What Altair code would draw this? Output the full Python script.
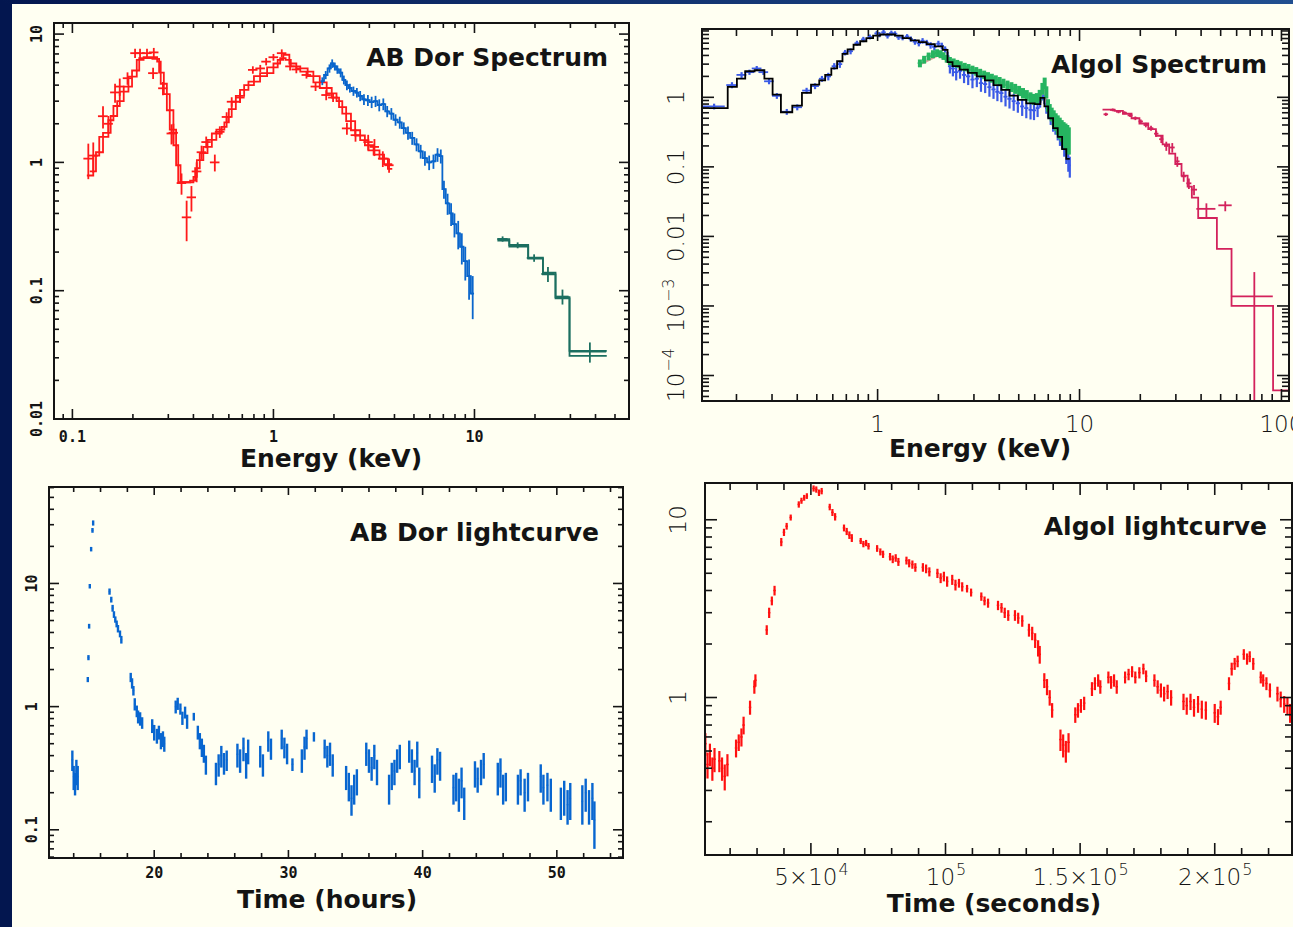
import altair as alt
import pandas as pd

W, H = 1293, 927

# ---------------------------------------------------------------- colours
NAVY = "#03164f"
NAVY_LIGHT = "#214f90"
CREAM = "#fffff2"
INK = "#141414"

AB_RED = "#ff1a1a"
AB_BLUE = "#0a66cc"
AB_TEAL = "#1c6f60"
AL_BLUE = "#3a5ae6"
AL_GREEN = "#26b460"
AL_PINK = "#e6a2a2"
AL_BLACK = "#000000"
AL_CRIMSON = "#d3225c"
LC_BLUE = "#0866d0"
LC_RED = "#ff1010"

SMALL_FONT = "DejaVu Sans Mono"
BIG_FONT = "DejaVu Sans"

# ================================================================ AB Dor spectrum
# soft instrument (two cameras): data points
AB_RED_E = [0.120, 0.127, 0.142, 0.151, 0.163, 0.172, 0.188, 0.205, 0.217, 0.235,
            0.254, 0.252, 0.282, 0.311, 0.318, 0.349, 0.370, 0.391, 0.415, 0.439,
            0.463, 0.511, 0.541, 0.585, 0.620, 0.682, 0.79, 0.86, 0.92, 1.00,
            1.10, 1.21, 1.30, 1.46, 1.62, 1.83, 1.98, 2.32, 2.56, 2.96,
            3.18, 3.50, 3.76]
AB_RED_DE = [0.0066, 0.007, 0.008, 0.008, 0.009, 0.0095, 0.010, 0.011, 0.012, 0.013,
             0.014, 0.014, 0.015, 0.017, 0.017, 0.019, 0.020, 0.021, 0.023, 0.024,
             0.025, 0.028, 0.030, 0.032, 0.034, 0.037, 0.043, 0.047, 0.05, 0.055,
             0.06, 0.066, 0.07, 0.08, 0.09, 0.1, 0.11, 0.13, 0.14, 0.16,
             0.17, 0.19, 0.2]
AB_RED_F = [1.07, 1.13, 2.29, 2.0, 3.51, 3.9, 4.53, 7.1, 7.1, 7.1,
            7.2, 4.96, 3.78, 1.68, 1.70, 0.69, 0.373, 0.534, 0.85, 1.20,
            1.44, 1.0, 1.73, 2.26, 2.97, 3.2, 5.26, 5.4, 6.1, 6.6,
            7.1, 5.6, 5.3, 4.8, 3.9, 3.35, 3.2, 1.84, 1.63, 1.44,
            1.32, 1.07, 0.95]
AB_RED_DF = [0.33, 0.3, 0.45, 0.3, 0.6, 0.6, 0.5, 0.6, 0.6, 0.6,
             0.6, 0.5, 0.45, 0.3, 0.3, 0.13, 0.13, 0.12, 0.15, 0.15,
             0.15, 0.15, 0.18, 0.2, 0.25, 0.3, 0.35, 0.35, 0.4, 0.4,
             0.5, 0.4, 0.35, 0.3, 0.3, 0.3, 0.25, 0.2, 0.18, 0.2,
             0.2, 0.15, 0.12]

# folded models for the two soft cameras (bin edges, bin values)
AB_RED_MODEL_A_EDGES = [0.118, 0.127, 0.136, 0.151, 0.160, 0.172, 0.190, 0.209, 0.226, 0.264,
                        0.275, 0.295, 0.318, 0.336, 0.400, 0.416, 0.448, 0.494, 0.553, 0.585,
                        0.620, 0.682, 0.751, 0.858, 1.00, 1.08, 1.15, 1.22, 1.36, 1.58,
                        1.84, 2.06, 2.20, 2.43, 2.70, 2.97, 3.37, 3.71, 3.90]
AB_RED_MODEL_A = [0.79, 1.13, 1.58, 2.13, 2.75, 3.56, 4.66, 6.3, 6.6, 6.1,
                  4.1, 2.55, 1.36, 0.70, 0.77, 1.04, 1.32, 1.68, 1.89, 2.26,
                  2.97, 3.67, 4.26, 4.96, 5.9, 6.5, 6.3, 5.6, 5.1, 4.2,
                  3.45, 3.0, 2.4, 1.78, 1.49, 1.24, 1.07, 0.89]
AB_RED_MODEL_B_EDGES = [0.122, 0.131, 0.142, 0.155, 0.167, 0.180, 0.198, 0.215, 0.250, 0.270,
                        0.285, 0.305, 0.328, 0.345, 0.385, 0.408, 0.430, 0.470, 0.520, 0.570,
                        0.600, 0.650, 0.715, 0.800, 0.930, 1.05, 1.12, 1.20, 1.30, 1.48,
                        1.70, 1.95, 2.12, 2.30, 2.55, 2.85, 3.15, 3.55, 3.90]
AB_RED_MODEL_B = [0.85, 1.2, 1.7, 2.3, 3.0, 3.9, 5.2, 6.5, 6.4, 5.0,
                  3.4, 1.8, 0.95, 0.70, 0.72, 0.90, 1.18, 1.50, 1.80, 2.05,
                  2.6, 3.3, 4.0, 4.7, 5.5, 6.3, 6.9, 5.9, 5.4, 4.7,
                  3.8, 3.2, 2.7, 2.1, 1.62, 1.36, 1.15, 0.97]

# medium-energy instrument
AB_BLUE_E = [1.75, 1.82, 1.90, 1.96, 2.02, 2.08, 2.16, 2.24, 2.32, 2.40,
             2.50, 2.60, 2.70, 2.82, 2.95, 3.08, 3.22, 3.36, 3.52, 3.68,
             3.86, 4.05, 4.25, 4.45, 4.67, 4.90, 5.15, 5.40, 5.67, 5.95,
             6.25, 6.55, 6.80, 7.05, 7.35, 7.65, 7.95, 8.30, 8.65, 9.00,
             9.40, 9.80]
AB_BLUE_DE = [0.035, 0.035, 0.04, 0.04, 0.04, 0.04, 0.045, 0.045, 0.045, 0.05,
              0.05, 0.05, 0.055, 0.055, 0.06, 0.06, 0.065, 0.065, 0.07, 0.07,
              0.075, 0.08, 0.08, 0.085, 0.09, 0.095, 0.1, 0.1, 0.11, 0.11,
              0.12, 0.12, 0.12, 0.12, 0.12, 0.12, 0.13, 0.13, 0.14, 0.14,
              0.15, 0.15]
AB_BLUE_F = [4.3, 4.8, 5.4, 5.9, 5.6, 5.3, 5.0, 4.4, 4.0, 3.8,
             3.6, 3.5, 3.3, 3.1, 3.05, 2.95, 3.0, 2.8, 2.85, 2.5,
             2.4, 2.15, 2.05, 1.85, 1.7, 1.55, 1.38, 1.22, 1.08, 1.0,
             1.02, 1.15, 1.12, 0.62, 0.48, 0.40, 0.33, 0.28, 0.22, 0.17,
             0.13, 0.095]
AB_BLUE_DF = [0.3, 0.35, 0.4, 0.45, 0.4, 0.4, 0.4, 0.35, 0.35, 0.3,
              0.3, 0.3, 0.3, 0.3, 0.3, 0.3, 0.3, 0.3, 0.3, 0.25,
              0.25, 0.22, 0.22, 0.2, 0.2, 0.18, 0.16, 0.15, 0.14, 0.13,
              0.13, 0.14, 0.14, 0.1, 0.09, 0.08, 0.07, 0.07, 0.06, 0.05,
              0.045, 0.035]

# hard instrument
AB_HARD_EDGES = [13.0, 14.9, 18.5, 21.9, 25.3, 29.7, 45.5]
AB_HARD_MODEL_A = [0.252, 0.227, 0.181, 0.138, 0.089, 0.034]
AB_HARD_MODEL_B = [0.246, 0.221, 0.178, 0.134, 0.087, 0.031]
AB_HARD_E = [13.8, 16.4, 19.8, 23.2, 27.4, 37.5]
AB_HARD_DE = [0.8, 1.5, 1.6, 1.7, 2.0, 7.7]
AB_HARD_F = [0.253, 0.226, 0.18, 0.135, 0.09, 0.0335]
AB_HARD_DF = [0.012, 0.012, 0.012, 0.018, 0.012, 0.006]

# ================================================================ Algol spectrum
AL_MODEL_EDGES = [0.135, 0.181, 0.201, 0.221, 0.246, 0.275, 0.302, 0.332, 0.378, 0.422,
                  0.468, 0.514, 0.55, 0.59, 0.63, 0.67, 0.71, 0.76, 0.82, 0.88,
                  0.95, 1.03, 1.12, 1.22, 1.33, 1.46, 1.60, 1.75, 1.92, 2.10,
                  2.22, 2.35, 2.55, 2.8, 3.1, 3.4, 3.75, 4.1, 4.5, 4.95,
                  5.45, 6.0, 6.4, 6.7, 7.0, 7.4, 7.8, 8.2, 8.6, 8.95]
AL_MODEL = [0.70, 1.41, 1.86, 2.37, 2.45, 1.86, 1.09, 0.61, 0.76, 1.16,
            1.52, 1.75, 2.1, 2.6, 3.3, 4.2, 4.9, 5.7, 6.4, 7.1,
            7.7, 8.0, 8.0, 7.7, 7.1, 6.6, 6.2, 5.8, 5.4, 4.8,
            3.2, 2.8, 2.5, 2.25, 2.0, 1.75, 1.5, 1.28, 1.06, 0.92,
            0.82, 0.80, 0.98, 0.74, 0.50, 0.36, 0.27, 0.18, 0.13]

AL_BLUE_E = [0.155, 0.19, 0.212, 0.232, 0.252, 0.272, 0.29, 0.317, 0.355, 0.40,
             0.445, 0.49, 0.53, 0.57, 0.61, 0.65, 0.69, 0.735, 0.79, 0.85,
             0.915, 0.99, 1.02, 1.07, 1.12, 1.17, 1.22, 1.27, 1.33, 1.40,
             1.46, 1.53, 1.60, 1.67, 1.75, 1.83, 1.91, 2.0, 2.08, 2.16,
             2.22, 2.28, 2.36, 2.45, 2.56, 2.68, 2.81, 2.95, 3.10, 3.25,
             3.41, 3.58, 3.75, 3.92, 4.10, 4.30, 4.50, 4.72, 4.95, 5.2,
             5.45, 5.72, 5.95, 6.2, 6.38, 6.55, 6.70, 6.85, 7.0, 7.2,
             7.4, 7.6, 7.8, 8.0, 8.2, 8.4, 8.6, 8.8, 8.95]
AL_BLUE_DE = [0.02, 0.012, 0.012, 0.013, 0.014, 0.015, 0.016, 0.017, 0.022, 0.022,
              0.022, 0.022, 0.018, 0.018, 0.018, 0.018, 0.018, 0.02, 0.022, 0.022,
              0.024, 0.026, 0.026, 0.028, 0.03, 0.03, 0.032, 0.032, 0.034, 0.035,
              0.036, 0.038, 0.04, 0.04, 0.045, 0.045, 0.048, 0.05, 0.05, 0.05,
              0.05, 0.05, 0.055, 0.06, 0.06, 0.065, 0.07, 0.07, 0.075, 0.08,
              0.08, 0.085, 0.09, 0.095, 0.1, 0.1, 0.11, 0.11, 0.12, 0.12,
              0.13, 0.13, 0.14, 0.14, 0.1, 0.1, 0.1, 0.1, 0.1, 0.1,
              0.1, 0.1, 0.1, 0.1, 0.1, 0.1, 0.1, 0.1, 0.08]
AL_BLUE_F = [0.74, 1.5, 2.1, 2.3, 2.6, 2.3, 1.7, 1.05, 0.62, 0.72,
             1.25, 1.45, 1.85, 2.0, 2.8, 3.0, 4.4, 4.6, 6.0, 6.8,
             7.4, 8.3, 8.0, 8.6, 7.7, 8.4, 8.2, 7.3, 7.2, 7.5,
             6.9, 6.3, 6.0, 6.5, 6.1, 5.6, 5.3, 5.9, 5.5, 4.9,
             3.9, 2.8, 2.6, 2.3, 2.4, 2.1, 2.0, 1.8, 1.85, 1.6,
             1.55, 1.4, 1.3, 1.2, 1.15, 1.02, 0.95, 0.88, 0.82, 0.74,
             0.70, 0.66, 0.65, 0.70, 0.86, 1.05, 0.95, 0.7, 0.62, 0.5,
             0.42, 0.37, 0.31, 0.26, 0.23, 0.19, 0.15, 0.125, 0.105]
AL_BLUE_DF = [0.07, 0.15, 0.2, 0.2, 0.22, 0.2, 0.16, 0.1, 0.06, 0.07,
              0.12, 0.14, 0.18, 0.25, 0.3, 0.35, 0.4, 0.45, 0.5, 0.6,
              0.6, 0.7, 0.7, 0.8, 0.7, 0.7, 0.7, 0.6, 0.6, 0.6,
              0.6, 0.6, 0.6, 0.6, 0.6, 0.6, 0.6, 0.6, 0.6, 0.5,
              0.6, 0.6, 0.6, 0.55, 0.55, 0.5, 0.5, 0.45, 0.45, 0.4,
              0.4, 0.38, 0.35, 0.32, 0.3, 0.28, 0.26, 0.24, 0.22, 0.2,
              0.2, 0.18, 0.18, 0.18, 0.15, 0.15, 0.15, 0.12, 0.12, 0.1,
              0.1, 0.08, 0.07, 0.06, 0.05, 0.05, 0.04, 0.04, 0.035]

AL_GREEN_E = [1.62, 1.70, 1.79, 1.88, 1.97, 2.05, 2.12, 2.20, 2.28, 2.38,
              2.48, 2.58, 2.70, 2.82, 2.95, 3.08, 3.22, 3.37, 3.52, 3.68,
              3.85, 4.02, 4.20, 4.40, 4.60, 4.80, 5.02, 5.25, 5.48, 5.72,
              5.95, 6.15, 6.35, 6.55, 6.72, 6.85, 6.98, 7.12, 7.28, 7.45,
              7.62, 7.80, 7.98, 8.16, 8.34, 8.52, 8.70, 8.85]
AL_GREEN_DE = [0.04, 0.04, 0.045, 0.045, 0.05, 0.05, 0.05, 0.055, 0.055, 0.06,
               0.06, 0.065, 0.065, 0.07, 0.07, 0.075, 0.075, 0.08, 0.08, 0.085,
               0.09, 0.09, 0.095, 0.1, 0.1, 0.1, 0.11, 0.11, 0.12, 0.12,
               0.12, 0.1, 0.1, 0.1, 0.08, 0.07, 0.07, 0.08, 0.08, 0.09,
               0.09, 0.09, 0.09, 0.09, 0.09, 0.09, 0.08, 0.07]
AL_GREEN_F = [3.1, 3.5, 3.9, 4.2, 4.35, 4.2, 3.95, 3.6, 3.35, 3.2,
              3.05, 2.9, 2.75, 2.65, 2.5, 2.38, 2.25, 2.12, 2.0, 1.9,
              1.8, 1.7, 1.6, 1.5, 1.42, 1.34, 1.25, 1.16, 1.08, 1.0,
              0.95, 0.97, 1.08, 1.35, 1.62, 1.2, 0.78, 0.66, 0.58, 0.52,
              0.46, 0.42, 0.38, 0.35, 0.32, 0.30, 0.28, 0.26]
AL_GREEN_DF = [0.4, 0.45, 0.5, 0.55, 0.55, 0.55, 0.5, 0.45, 0.45, 0.42,
               0.4, 0.4, 0.38, 0.36, 0.35, 0.34, 0.32, 0.3, 0.3, 0.28,
               0.27, 0.26, 0.25, 0.24, 0.23, 0.22, 0.21, 0.2, 0.19, 0.18,
               0.17, 0.18, 0.2, 0.26, 0.3, 0.24, 0.16, 0.14, 0.13, 0.13,
               0.13, 0.13, 0.13, 0.12, 0.12, 0.12, 0.12, 0.11]

AL_PINK_E = [1.6, 2.0, 2.2, 2.5, 3.0, 3.5, 4.0, 4.5, 5.0, 5.5, 6.0, 6.4, 6.7, 6.9, 7.3, 7.8, 8.3, 8.85]
AL_PINK_F = [2.9, 4.0, 3.4, 2.9, 2.35, 1.95, 1.65, 1.42, 1.22, 1.05, 0.92, 1.0, 1.45, 0.8, 0.56, 0.42, 0.32, 0.25]

AL_HARD_EDGES = [13.0, 14.9, 16.4, 18.1, 19.8, 21.9, 23.9, 25.8, 27.8, 29.8,
                 32.0, 34.3, 36.0, 38.7, 47.9, 56.6, 90.9, 109.0]
AL_HARD_MODEL = [0.665, 0.64, 0.58, 0.50, 0.42, 0.35, 0.28, 0.21, 0.155, 0.11,
                 0.075, 0.052, 0.036, 0.0184, 0.0066, 0.001, 6.1e-5]
AL_HARD_E = [13.5, 14.6, 15.6, 16.7, 17.8, 18.9, 20.1, 21.3, 22.6, 24.0,
             25.4, 26.9, 28.8, 30.5, 32.8, 34.8, 36.9, 42.5, 52.7, 73.4]
AL_HARD_DE = [0.35, 0.45, 0.45, 0.45, 0.5, 0.5, 0.5, 0.55, 0.6, 0.6,
              0.6, 0.7, 0.8, 0.8, 0.9, 1.0, 1.3, 4.6, 4.0, 17.2]
AL_HARD_F = [0.57, 0.66, 0.62, 0.60, 0.55, 0.50, 0.45, 0.40, 0.36, 0.30,
             0.25, 0.20, 0.19, 0.12, 0.073, 0.058, 0.047, 0.0249, 0.028, 0.00137]
AL_HARD_DF_LO = [0.03, 0.03, 0.03, 0.03, 0.03, 0.03, 0.03, 0.03, 0.03, 0.03,
                 0.03, 0.03, 0.03, 0.02, 0.012, 0.01, 0.008, 0.006, 0.005, 0.001326]
AL_HARD_DF_HI = [0.03, 0.03, 0.03, 0.03, 0.03, 0.03, 0.03, 0.03, 0.03, 0.03,
                 0.03, 0.03, 0.03, 0.02, 0.012, 0.01, 0.008, 0.005, 0.004, 0.0017]

# ================================================================ AB Dor light curve (hours, rate)
AB_LC_T = [13.9, 14.0, 14.1, 14.2, 14.3,
           15.05, 15.1, 15.15, 15.2, 15.3, 15.4, 15.45,
           16.67, 16.8, 16.9, 17.0, 17.1, 17.2, 17.3, 17.45, 17.55,
           18.25, 18.35, 18.45, 18.55, 18.7, 18.8, 18.95, 19.1,
           19.85, 20.0, 20.2, 20.35, 20.5, 20.65, 20.75,
           21.6, 21.75, 21.95, 22.1, 22.3, 22.45,
           22.95,
           23.25, 23.4, 23.55, 23.7, 23.85,
           24.6, 24.8, 25.0, 25.2, 25.4,
           26.2, 26.4, 26.65, 26.85, 27.0,
           27.9, 28.1,
           28.5, 28.7,
           29.5, 29.7, 29.9,
           30.3,
           31.0, 31.2, 31.35,
           31.9,
           32.7, 32.9, 33.1, 33.3,
           34.3, 34.5, 34.7, 34.9, 35.1,
           35.8, 36.0, 36.2, 36.4, 36.6,
           37.5, 37.7, 37.9, 38.1, 38.3,
           39.0, 39.2, 39.4, 39.6, 39.75,
           40.7, 40.9, 41.1, 41.3,
           42.3, 42.5, 42.7, 42.9, 43.1,
           43.9, 44.1, 44.35, 44.55,
           45.6, 45.8, 46.0, 46.2,
           47.1, 47.3, 47.6, 47.85,
           48.8, 49.0, 49.3, 49.55,
           50.3, 50.55, 50.8, 51.0,
           51.9, 52.15, 52.4, 52.65, 52.8]
AB_LC_RATE = [0.37, 0.27, 0.24, 0.30, 0.27,
              1.66, 2.5, 4.5, 9.5, 19.0, 27.0, 31.0,
              8.6, 7.4, 6.3, 5.6, 5.1, 4.7, 4.3, 3.9, 3.5,
              1.73, 1.55, 1.35, 1.05, 0.92, 0.83, 0.80, 0.74,
              0.70, 0.62, 0.58, 0.62, 0.53, 0.55, 0.50,
              1.0, 1.06, 0.96, 0.81, 0.90, 0.76,
              0.83,
              0.62, 0.53, 0.47, 0.42, 0.34,
              0.29, 0.34, 0.40, 0.35, 0.37,
              0.41, 0.37, 0.46, 0.34, 0.44,
              0.40, 0.34,
              0.53, 0.46,
              0.55, 0.47, 0.42,
              0.34,
              0.37, 0.47, 0.55,
              0.57,
              0.46, 0.40, 0.42, 0.34,
              0.27, 0.23, 0.18, 0.22, 0.25,
              0.42, 0.37, 0.32, 0.40, 0.30,
              0.22, 0.28, 0.30, 0.37, 0.40,
              0.44, 0.37, 0.30, 0.42, 0.25,
              0.32, 0.27, 0.37, 0.34,
              0.22, 0.23, 0.20, 0.25, 0.17,
              0.29, 0.26, 0.30, 0.34,
              0.27, 0.30, 0.22, 0.23,
              0.22, 0.25, 0.20, 0.23,
              0.27, 0.22, 0.23, 0.20,
              0.17, 0.19, 0.16, 0.18,
              0.17, 0.20, 0.16, 0.18, 0.12]
AB_LC_ERR = [0.07, 0.06, 0.05, 0.07, 0.06,
             0.08, 0.12, 0.2, 0.4, 0.8, 1.2, 1.5,
             0.5, 0.4, 0.4, 0.35, 0.3, 0.3, 0.3, 0.25, 0.25,
             0.15, 0.15, 0.12, 0.12, 0.1, 0.1, 0.1, 0.08,
             0.09, 0.09, 0.08, 0.08, 0.08, 0.08, 0.07,
             0.12, 0.12, 0.1, 0.1, 0.1, 0.1,
             0.06,
             0.08, 0.08, 0.08, 0.07, 0.06,
             0.06, 0.07, 0.08, 0.07, 0.07,
             0.09, 0.08, 0.1, 0.08, 0.1,
             0.08, 0.07,
             0.1, 0.09,
             0.1, 0.09, 0.08,
             0.04,
             0.08, 0.1, 0.1,
             0.05,
             0.08, 0.08, 0.09, 0.07,
             0.06, 0.06, 0.05, 0.06, 0.06,
             0.09, 0.08, 0.07, 0.09, 0.07,
             0.06, 0.07, 0.07, 0.08, 0.09,
             0.09, 0.08, 0.07, 0.1, 0.07,
             0.08, 0.07, 0.09, 0.09,
             0.06, 0.06, 0.06, 0.07, 0.05,
             0.07, 0.06, 0.07, 0.08,
             0.08, 0.08, 0.06, 0.06,
             0.06, 0.06, 0.06, 0.06,
             0.07, 0.06, 0.06, 0.06,
             0.05, 0.06, 0.05, 0.06,
             0.06, 0.06, 0.05, 0.06, 0.05]
AB_LC_HALF_BIN = 0.06

# ================================================================ Algol light curve (seconds, rate)
AL_LC_T = [10800, 11600, 12500, 13400, 14200,
           16000, 17000, 18000, 19000,
           22200, 23200, 24200, 25000, 27400, 29000, 29400,
           33600, 34500, 35500, 36500,
           39000, 40000, 41000, 42500,
           45500, 46500, 47500, 48500,
           51000, 52000, 53000, 54000,
           57000, 58000, 59000,
           62300, 63300, 64300, 65200,
           68500, 69500, 70500, 71400,
           74600, 75800, 76800,
           79400, 80400, 81500, 82500,
           85500, 86500, 87700, 88800,
           91600, 92800, 94000,
           97000, 98200, 99400, 100600,
           102500, 103700, 105000, 106200,
           108000, 109500,
           113300, 114500, 115800,
           119500, 120800, 122000, 123300,
           125800, 127000, 128500,
           131000, 132200, 133300, 134400, 135000,
           136700, 137700, 138700, 139600,
           142700, 143700, 144700, 145700,
           148200, 149200, 150300, 151500,
           154400, 155500, 156700, 157500,
           160500, 161500, 162600, 163600,
           166700, 168000, 169300, 170500, 172000, 173500, 174500,
           177600, 178800, 180000, 181200, 182500, 183800,
           188400, 189600, 191000, 192300, 193800, 195200, 196700,
           200000, 201200, 202200,
           205300, 206300, 207400, 208500,
           210800, 212000, 213000, 214300,
           217100, 218000, 219200, 220500,
           223300, 224500, 225800, 227000, 228000]
AL_LC_RATE = [0.55, 0.42, 0.48, 0.40, 0.45,
              0.44, 0.40, 0.36, 0.42,
              0.52, 0.56, 0.60, 0.70, 0.88, 1.15, 1.25,
              2.4, 3.0, 3.5, 4.0,
              7.5, 8.5, 9.2, 10.3,
              12.2, 12.8, 13.3, 13.6,
              15.0, 14.8, 14.2, 14.5,
              11.8, 11.0, 10.4,
              9.0, 8.6, 8.2, 7.9,
              7.6, 7.3, 7.4, 7.1,
              6.9, 6.6, 6.4,
              6.2, 6.0, 6.1, 5.8,
              5.9, 5.7, 5.6, 5.4,
              5.4, 5.3, 5.1,
              5.0, 4.7, 4.8, 4.5,
              4.6, 4.3, 4.4, 4.2,
              4.1, 3.9,
              3.7, 3.5, 3.4,
              3.3, 3.2, 3.0, 2.9,
              2.9, 2.8, 2.7,
              2.4, 2.3, 2.1, 1.9, 1.75,
              1.25, 1.15, 1.0, 0.85,
              0.58, 0.54, 0.50, 0.56,
              0.80, 0.85, 0.90, 0.93,
              1.12, 1.20, 1.25, 1.15,
              1.30, 1.22, 1.25, 1.15,
              1.30, 1.35, 1.40, 1.30, 1.38, 1.45, 1.32,
              1.25, 1.15, 1.10, 1.05, 1.08, 1.00,
              0.95, 0.90, 0.95, 0.88, 0.92, 0.86, 0.85,
              0.82, 0.78, 0.88,
              1.20, 1.45, 1.55, 1.60,
              1.75, 1.65, 1.70, 1.55,
              1.30, 1.25, 1.20, 1.10,
              1.05, 0.98, 0.92, 0.90, 0.82]
AL_LC_ERR = [0.08, 0.07, 0.07, 0.06, 0.07,
             0.06, 0.06, 0.06, 0.06,
             0.06, 0.06, 0.07, 0.08, 0.08, 0.1, 0.1,
             0.15, 0.2, 0.2, 0.25,
             0.4, 0.4, 0.4, 0.4,
             0.5, 0.5, 0.5, 0.5,
             0.6, 0.6, 0.6, 0.6,
             0.5, 0.5, 0.5,
             0.4, 0.4, 0.4, 0.4,
             0.3, 0.3, 0.3, 0.3,
             0.3, 0.3, 0.3,
             0.3, 0.3, 0.3, 0.3,
             0.3, 0.3, 0.3, 0.3,
             0.3, 0.3, 0.3,
             0.3, 0.3, 0.3, 0.3,
             0.3, 0.3, 0.25, 0.25,
             0.2, 0.2,
             0.2, 0.2, 0.2,
             0.2, 0.2, 0.2, 0.2,
             0.2, 0.2, 0.2,
             0.2, 0.2, 0.2, 0.2, 0.2,
             0.12, 0.12, 0.1, 0.08,
             0.08, 0.08, 0.07, 0.07,
             0.08, 0.08, 0.08, 0.08,
             0.1, 0.1, 0.1, 0.1,
             0.1, 0.1, 0.1, 0.1,
             0.1, 0.1, 0.1, 0.1, 0.1, 0.1, 0.1,
             0.1, 0.1, 0.1, 0.1, 0.1, 0.1,
             0.1, 0.1, 0.1, 0.1, 0.1, 0.1, 0.1,
             0.1, 0.08, 0.08,
             0.1, 0.12, 0.12, 0.12,
             0.12, 0.12, 0.12, 0.12,
             0.1, 0.1, 0.1, 0.1,
             0.1, 0.1, 0.1, 0.1, 0.1]
AL_LC_HALF_BIN = 450

# ================================================================ axes: ticks and tick labels
def log_minor(lo_exp, hi_exp, mults=range(2, 10)):
    return [m * 10.0 ** k for k in range(lo_exp, hi_exp + 1) for m in mults]

P1_X_MAJOR = [0.1, 1, 10]
P1_X_MINOR = [0.09] + log_minor(-1, 1)[:-4]
P1_X_LABELS = ["0.1", "1", "10"]
P1_Y_MAJOR = [0.01, 0.1, 1, 10]
P1_Y_MINOR = log_minor(-2, 0)
P1_Y_LABELS = ["0.01", "0.1", "1", "10"]

P2_X_MAJOR = [1, 10, 100]
P2_X_MINOR = log_minor(-1, 1)
P2_X_LABELS = ["1", "10", "100"]
P2_X_EXPS = ["", "", ""]
P2_Y_MAJOR = [1e-4, 1e-3, 0.01, 0.1, 1]
P2_Y_MINOR = [5e-5, 6e-5, 7e-5, 8e-5, 9e-5] + log_minor(-4, 0)
P2_Y_LABELS = ["10", "10", "0.01", "0.1", "1"]
P2_Y_EXPS = ["\u22124", "\u22123", "", "", ""]

P3_X_MAJOR = [20, 30, 40, 50]
P3_X_MINOR = [14, 16, 18, 22, 24, 26, 28, 32, 34, 36, 38, 42, 44, 46, 48, 52, 54]
P3_X_LABELS = ["20", "30", "40", "50"]
P3_Y_MAJOR = [0.1, 1, 10]
P3_Y_MINOR = [0.06, 0.07, 0.08, 0.09] + log_minor(-1, 0) + [20, 30, 40, 50, 60]
P3_Y_LABELS = ["0.1", "1", "10"]

P4_X_MAJOR = [50000, 100000, 150000, 200000]
P4_X_MINOR = [20000, 30000, 40000, 60000, 70000, 80000, 90000,
              110000, 120000, 130000, 140000, 160000, 170000, 180000, 190000,
              210000, 220000]
P4_X_LABELS = ["5\u00d710", "10", "1.5\u00d710", "2\u00d710"]
P4_X_EXPS = ["4", "5", "5", "5"]
P4_Y_MAJOR = [1, 10]
P4_Y_MINOR = log_minor(-1, 0)
P4_Y_LABELS = ["1", "10"]
P4_Y_EXPS = ["", ""]

ONE = pd.DataFrame({"k": [0]})

# approximate advance widths (em) of the label glyphs, used to centre "base + exponent"
GLYPH_EM = {".": 0.318, "\u00d7": 0.838, "\u2212": 0.838}


def text_width(s, size):
    return sum(GLYPH_EM.get(c, 0.636) for c in s) * size


# ================================================================ helpers
def scale(kind, domain, rng):
    if kind == "log":
        return alt.Scale(type="log", domain=domain, range=rng, nice=False)
    return alt.Scale(type="linear", domain=domain, range=rng, nice=False, zero=False)


def cross_layers(x, dx, y, dy_lo, dy_hi, xs, ys, color, width, h_width=None):
    df = pd.DataFrame({
        "x": x,
        "x_lo": [a - b for a, b in zip(x, dx)],
        "x_hi": [a + b for a, b in zip(x, dx)],
        "y": y,
        "y_lo": [a - b for a, b in zip(y, dy_lo)],
        "y_hi": [a + b for a, b in zip(y, dy_hi)],
    })
    horiz = alt.Chart(df).mark_rule(color=color, strokeWidth=h_width or width).encode(
        x=alt.X("x_lo:Q", scale=xs, axis=None), x2="x_hi:Q",
        y=alt.Y("y:Q", scale=ys, axis=None))
    vert = alt.Chart(df).mark_rule(color=color, strokeWidth=width).encode(
        x=alt.X("x:Q", scale=xs, axis=None),
        y=alt.Y("y_lo:Q", scale=ys, axis=None), y2="y_hi:Q")
    return [horiz, vert]


def step_layer(edges, values, xs, ys, color, width):
    df = pd.DataFrame({"x": list(edges), "y": list(values) + [values[-1]],
                       "i": list(range(len(edges)))})
    return alt.Chart(df).mark_line(color=color, strokeWidth=width, interpolate="step-after").encode(
        x=alt.X("x:Q", scale=xs, axis=None), y=alt.Y("y:Q", scale=ys, axis=None), order="i:Q")


def line_layer(x, y, xs, ys, color, width, interp="linear"):
    df = pd.DataFrame({"x": x, "y": y, "i": list(range(len(x)))})
    return alt.Chart(df).mark_line(color=color, strokeWidth=width, interpolate=interp).encode(
        x=alt.X("x:Q", scale=xs, axis=None), y=alt.Y("y:Q", scale=ys, axis=None), order="i:Q")


def frame_layers(xs, ys, xd, yd, xr, yr, x_major, x_minor, y_major, y_minor, x_len, y_len, tick_w):
    left, right = xr
    bottom, top = yr
    out = []
    for vals, length in ((x_major, x_len[0]), (x_minor, x_len[1])):
        df = pd.DataFrame({"v": vals})
        for edge, sign in ((bottom, -1), (top, 1)):
            out.append(alt.Chart(df).mark_rule(color=INK, strokeWidth=tick_w).encode(
                x=alt.X("v:Q", scale=xs, axis=None),
                y=alt.value(edge), y2=alt.value(edge + sign * length)))
    for vals, length in ((y_major, y_len[0]), (y_minor, y_len[1])):
        df = pd.DataFrame({"v": vals})
        for edge, sign in ((left, 1), (right, -1)):
            out.append(alt.Chart(df).mark_rule(color=INK, strokeWidth=tick_w).encode(
                y=alt.Y("v:Q", scale=ys, axis=None),
                x=alt.value(edge), x2=alt.value(edge + sign * length)))
    out.append(alt.Chart(ONE).mark_rect(fill="transparent", stroke=INK, strokeWidth=2).encode(
        x=alt.X(datum=xd[0], scale=xs, axis=None), x2=alt.X2(datum=xd[1]),
        y=alt.Y(datum=yd[0], scale=ys, axis=None), y2=alt.Y2(datum=yd[1])))
    return out


def label_layers(xs, ys, x_vals, x_text, x_base, y_vals, y_text, y_base, font, size, weight):
    dfx = pd.DataFrame({"v": x_vals, "t": x_text})
    dfy = pd.DataFrame({"v": y_vals, "t": y_text})
    xl = alt.Chart(dfx).mark_text(font=font, fontSize=size, fontWeight=weight, color=INK,
                                  align="center", baseline="alphabetic").encode(
        x=alt.X("v:Q", scale=xs, axis=None), y=alt.value(x_base), text="t:N")
    yl = alt.Chart(dfy).mark_text(font=font, fontSize=size, fontWeight=weight, color=INK,
                                  align="center", baseline="alphabetic", angle=270).encode(
        y=alt.Y("v:Q", scale=ys, axis=None), x=alt.value(y_base), text="t:N")
    return [xl, yl]


def power_labels(vals, bases, exps, xs, ys, axis, base_px, size, sup_size, weight):
    """Tick labels written as a base with a raised exponent (e.g. 5x10^4)."""
    out = []
    for v, b, e in zip(vals, bases, exps):
        bw = text_width(b, size)
        ew = text_width(e, sup_size) if e else 0.0
        common = dict(font=BIG_FONT, fontWeight=weight, color=INK, baseline="alphabetic")
        if axis == "x":
            pos = dict(x=alt.X(datum=v, scale=xs, axis=None), y=alt.value(base_px))
            angle = {}
        else:
            pos = dict(y=alt.Y(datum=v, scale=ys, axis=None), x=alt.value(base_px))
            angle = {"angle": 270}
        out.append(alt.Chart(ONE).mark_text(text=b, fontSize=size, align="center",
                                            dx=-ew / 2, **angle, **common).encode(**pos))
        if e:
            out.append(alt.Chart(ONE).mark_text(text=e, fontSize=sup_size, align="left",
                                                dx=bw / 2 - ew / 2 + 1, dy=-0.45 * size,
                                                **angle, **common).encode(**pos))
    return out


def caption(text, x, y, align):
    return alt.Chart(ONE).mark_text(text=text, font=BIG_FONT, fontSize=25, fontWeight="bold",
                                    color=INK, align=align, baseline="alphabetic").encode(
        x=alt.value(x), y=alt.value(y))


# ================================================================ panel 1: AB Dor spectrum
P1_XD, P1_XR = [0.081, 58.7], [54, 629]
P1_YD, P1_YR = [0.01, 12.2], [419, 23]
s1x, s1y = scale("log", P1_XD, P1_XR), scale("log", P1_YD, P1_YR)
p1_layers = []
p1_layers.append(step_layer(AB_RED_MODEL_A_EDGES, AB_RED_MODEL_A, s1x, s1y, AB_RED, 1.8))
p1_layers.append(step_layer(AB_RED_MODEL_B_EDGES, AB_RED_MODEL_B, s1x, s1y, AB_RED, 1.8))
p1_layers += cross_layers(AB_RED_E, AB_RED_DE, AB_RED_F, AB_RED_DF, AB_RED_DF, s1x, s1y, AB_RED, 1.8)
p1_layers.append(line_layer(AB_BLUE_E, AB_BLUE_F, s1x, s1y, AB_BLUE, 1.8, "step"))
p1_layers += cross_layers(AB_BLUE_E, AB_BLUE_DE, AB_BLUE_F, AB_BLUE_DF, AB_BLUE_DF, s1x, s1y, AB_BLUE, 1.8)
p1_layers.append(step_layer(AB_HARD_EDGES, AB_HARD_MODEL_A, s1x, s1y, AB_TEAL, 1.8))
p1_layers.append(step_layer(AB_HARD_EDGES, AB_HARD_MODEL_B, s1x, s1y, AB_TEAL, 1.8))
p1_layers += cross_layers(AB_HARD_E, AB_HARD_DE, AB_HARD_F, AB_HARD_DF, AB_HARD_DF, s1x, s1y, AB_TEAL, 1.8)
p1_layers += frame_layers(s1x, s1y, P1_XD, P1_YD, P1_XR, P1_YR, P1_X_MAJOR, P1_X_MINOR,
                          P1_Y_MAJOR, P1_Y_MINOR, (10, 5), (10, 5), 1.6)
p1_layers += label_layers(s1x, s1y, P1_X_MAJOR, P1_X_LABELS, 442, P1_Y_MAJOR, P1_Y_LABELS, 42,
                          SMALL_FONT, 15, "bold")
panel1 = alt.layer(*p1_layers)

# ================================================================ panel 2: Algol spectrum
P2_XD, P2_XR = [0.135, 109.0], [702, 1289]
P2_YD, P2_YR = [4.3e-5, 9.6], [401, 29]
s2x, s2y = scale("log", P2_XD, P2_XR), scale("log", P2_YD, P2_YR)
p2_layers = []
p2_layers += cross_layers(AL_BLUE_E, AL_BLUE_DE, AL_BLUE_F, AL_BLUE_DF, AL_BLUE_DF, s2x, s2y,
                          AL_BLUE, 2.2, 1.8)
p2_layers.append(line_layer(AL_PINK_E, AL_PINK_F, s2x, s2y, AL_PINK, 2.0))
p2_layers += cross_layers(AL_GREEN_E, AL_GREEN_DE, AL_GREEN_F, AL_GREEN_DF, AL_GREEN_DF, s2x, s2y,
                          AL_GREEN, 4.0, 1.8)
p2_layers.append(step_layer(AL_MODEL_EDGES, AL_MODEL, s2x, s2y, AL_BLACK, 1.8))
p2_layers.append(step_layer(AL_HARD_EDGES, AL_HARD_MODEL, s2x, s2y, AL_CRIMSON, 1.8))
p2_layers += cross_layers(AL_HARD_E, AL_HARD_DE, AL_HARD_F, AL_HARD_DF_LO, AL_HARD_DF_HI, s2x, s2y,
                          AL_CRIMSON, 1.8)
p2_layers += frame_layers(s2x, s2y, P2_XD, P2_YD, P2_XR, P2_YR, P2_X_MAJOR, P2_X_MINOR,
                          P2_Y_MAJOR, P2_Y_MINOR, (12, 7), (12, 7), 1.6)
p2_layers += power_labels(P2_X_MAJOR, P2_X_LABELS, P2_X_EXPS, s2x, s2y, "x", 432, 23, 16, 200)
p2_layers += power_labels(P2_Y_MAJOR, P2_Y_LABELS, P2_Y_EXPS, s2x, s2y, "y", 684, 23, 16, 200)
panel2 = alt.layer(*p2_layers)

# ================================================================ panel 3: AB Dor light curve
P3_XD, P3_XR = [12.16, 54.93], [49, 623]
P3_YD, P3_YR = [0.059, 60.7], [858, 487]
s3x, s3y = scale("linear", P3_XD, P3_XR), scale("log", P3_YD, P3_YR)
p3_layers = cross_layers(AB_LC_T, [AB_LC_HALF_BIN] * len(AB_LC_T), AB_LC_RATE, AB_LC_ERR, AB_LC_ERR,
                         s3x, s3y, LC_BLUE, 2.4, 1.5)
p3_layers += frame_layers(s3x, s3y, P3_XD, P3_YD, P3_XR, P3_YR, P3_X_MAJOR, P3_X_MINOR,
                          P3_Y_MAJOR, P3_Y_MINOR, (8, 5), (10, 5), 1.6)
p3_layers += label_layers(s3x, s3y, P3_X_MAJOR, P3_X_LABELS, 878, P3_Y_MAJOR, P3_Y_LABELS, 37,
                          SMALL_FONT, 15, "bold")
panel3 = alt.layer(*p3_layers)

# ================================================================ panel 4: Algol light curve
P4_XD, P4_XR = [10669, 228699], [705, 1292]
P4_YD, P4_YR = [0.13, 16.1], [855, 483]
s4x, s4y = scale("linear", P4_XD, P4_XR), scale("log", P4_YD, P4_YR)
p4_layers = cross_layers(AL_LC_T, [AL_LC_HALF_BIN] * len(AL_LC_T), AL_LC_RATE, AL_LC_ERR, AL_LC_ERR,
                         s4x, s4y, LC_RED, 2.2, 1.5)
p4_layers += frame_layers(s4x, s4y, P4_XD, P4_YD, P4_XR, P4_YR, P4_X_MAJOR, P4_X_MINOR,
                          P4_Y_MAJOR, P4_Y_MINOR, (12, 7), (12, 7), 1.6)
p4_layers += power_labels(P4_X_MAJOR, P4_X_LABELS, P4_X_EXPS, s4x, s4y, "x", 885, 23, 16, 200)
p4_layers += power_labels(P4_Y_MAJOR, P4_Y_LABELS, P4_Y_EXPS, s4x, s4y, "y", 686, 23, 16, 200)
panel4 = alt.layer(*p4_layers)

# ================================================================ page
page = alt.Chart(ONE).mark_rect(color=CREAM).encode(
    x=alt.value(12), x2=alt.value(W), y=alt.value(4), y2=alt.value(H))
band = alt.Chart(ONE).mark_rect(color=alt.LinearGradient(
    gradient="linear", x1=0, x2=1, y1=0, y2=0,
    stops=[alt.GradientStop(color=NAVY, offset=0), alt.GradientStop(color=NAVY_LIGHT, offset=1)])).encode(
    x=alt.value(0), x2=alt.value(W), y=alt.value(0), y2=alt.value(4))

captions = [
    caption("AB Dor Spectrum", 608, 66, "right"),
    caption("Algol Spectrum", 1267, 73, "right"),
    caption("AB Dor lightcurve", 599, 541, "right"),
    caption("Algol lightcurve", 1267, 535, "right"),
    caption("Energy (keV)", 331, 467, "center"),
    caption("Energy (keV)", 980, 457, "center"),
    caption("Time (hours)", 327, 908, "center"),
    caption("Time (seconds)", 994, 912, "center"),
]

chart = alt.layer(page, band, panel1, panel2, panel3, panel4, *captions).resolve_scale(
    x="independent", y="independent"
).properties(
    width=W, height=H, padding=0, background=NAVY,
    autosize=alt.AutoSizeParams(type="none"),
).configure_view(stroke=None)

chart.save("out.html", embed_options={"renderer": "svg", "actions": False})
